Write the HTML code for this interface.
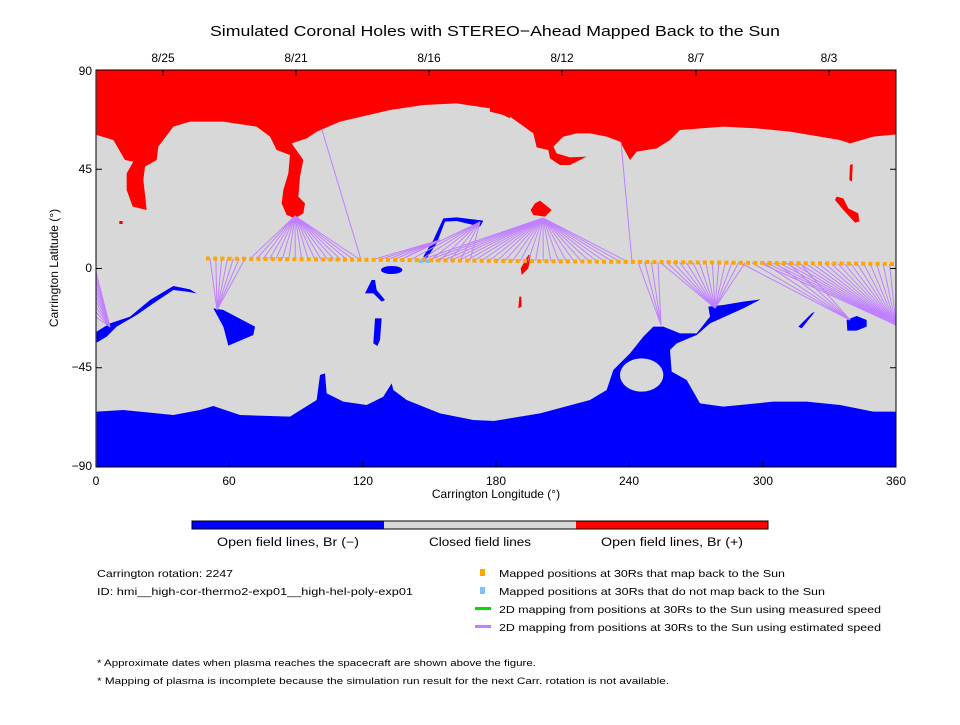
<!DOCTYPE html>
<html><head><meta charset="utf-8"><style>
body{margin:0;background:#fff;width:960px;height:720px;overflow:hidden}
svg text{font-family:"Liberation Sans",sans-serif;fill:#000}
</style></head><body>
<svg id="s" width="960" height="720" xmlns="http://www.w3.org/2000/svg">
<defs><clipPath id="c"><rect x="96" y="70" width="800" height="397"/></clipPath></defs>
<g clip-path="url(#c)">
<rect x="96" y="70" width="800" height="397" fill="#d8d8d8"/>
<g transform="translate(90,60) scale(0.33333)">
<path fill="#f00" d="M20,0 L1260,0 L1260,175 L1200,145 L1100,130 L1000,135 L900,150 L750,185 L680,215 L650,235 L605,250 L640,300 L630,350 L625,410 L645,430 L640,460 L615,475 L590,465 L575,430 L580,390 L595,340 L600,285 L560,270 L540,230 L500,200 L400,185 L300,185 L250,200 L205,260 L200,300 L165,320 L160,360 L168,430 L170,450 L128,440 L110,390 L110,340 L130,305 L105,300 L70,240 L20,225 Z"/>
<rect x="88" y="483" width="10" height="9" fill="#f00"/>
<path fill="#00f" d="M20,1055 L100,1050 L250,1065 L330,1050 L370,1038 L450,1065 L600,1070 L680,1020 L690,945 L705,940 L710,1000 L760,1025 L830,1035 L880,1010 L905,970 L910,990 L950,1020 L1050,1060 L1150,1080 L1260,1085 L1260,1230 L20,1230 Z"/>
<path fill="#00f" d="M20,815 L60,790 L120,770 L180,720 L250,678 L300,688 L320,700 L290,695 L250,690 L190,730 L140,765 L80,800 L50,830 L20,848 Z"/>
<path fill="#00f" d="M370,745 L400,750 L495,800 L490,825 L415,857 L400,800 Z"/>
<ellipse cx="905" cy="630" rx="32" ry="12" fill="#00f"/>
<path fill="#00f" d="M845,660 L855,660 L860,690 L885,720 L875,725 L850,700 L825,700 Z"/>
<path fill="#00f" d="M855,775 L875,775 L870,840 L862,858 L850,850 Z"/>
<path fill="#00f" d="M1000,590 L1030,540 L1060,475 L1100,472 L1180,482 L1170,500 L1100,483 L1065,485 L1040,550 L1010,595 Z"/>
</g>
<g transform="translate(490,60) scale(0.33333)">
<path fill="#f00" d="M0,0 L1230,0 L1230,222 L1150,230 L1080,250 L1050,240 L900,215 L800,205 L700,200 L570,210 L540,240 L500,265 L440,275 L420,300 L390,245 L350,230 L300,220 L260,220 L220,230 L190,260 L200,280 L240,292 L290,290 L240,315 L210,315 L180,295 L175,270 L140,262 L130,220 L60,170 L0,155 Z"/>
<path fill="#f00" d="M135,430 L150,422 L185,450 L165,470 L130,465 L122,450 Z"/>
<path fill="#f00" d="M1040,410 L1060,415 L1075,445 L1105,460 L1108,485 L1095,488 L1060,450 L1035,420 Z"/>
<path fill="#f00" d="M1080,315 L1088,312 L1086,365 L1078,360 Z"/>
<path fill="#f00" d="M115,585 L122,585 L115,625 L95,645 L92,625 Z"/>
<path fill="#f00" d="M88,710 L94,710 L95,740 L85,745 Z"/>
<path fill="#00f" d="M0,1085 L150,1060 L300,1020 L350,990 L370,930 L420,880 L460,830 L490,800 L520,800 L570,820 L620,820 L660,770 L655,740 L700,735 L760,725 L812,718 L760,745 L660,790 L620,825 L560,850 L540,870 L545,935 L590,960 L630,1030 L700,1040 L850,1025 L950,1025 L1050,1035 L1150,1055 L1230,1055 L1230,1230 L0,1230 Z"/>
<ellipse cx="455" cy="945" rx="65" ry="50" fill="#d8d8d8"/>
<path fill="#00f" d="M1070,780 L1100,768 L1130,780 L1130,800 L1100,812 L1072,812 Z"/>
<path fill="#00f" d="M925,800 L965,760 L975,755 L935,805 Z"/>
</g>
<g id="lines" stroke="#c080ff" stroke-width="1" fill="none"></g>
<g id="dots" fill="#ffa500"></g>
</g>
<rect x="96" y="70" width="800" height="397" fill="none" stroke="#000" stroke-width="1"/>
<g id="ticks" stroke="#000" stroke-width="1"></g>
<text x="210" y="36" font-size="15" textLength="570" lengthAdjust="spacingAndGlyphs">Simulated Coronal Holes with STEREO−Ahead Mapped Back to the Sun</text>
<g font-size="12" text-anchor="middle">
<text x="163" y="62">8/25</text><text x="296" y="62">8/21</text><text x="429" y="62">8/16</text><text x="562" y="62">8/12</text><text x="696" y="62">8/7</text><text x="829" y="62">8/3</text>
<text x="96" y="485">0</text><text x="229" y="485">60</text><text x="363" y="485">120</text><text x="496" y="485">180</text><text x="629" y="485">240</text><text x="763" y="485">300</text><text x="896" y="485">360</text>
<text x="496" y="498">Carrington Longitude (°)</text>
</g>
<g font-size="12" text-anchor="end">
<text x="92" y="75">90</text><text x="92" y="173">45</text><text x="92" y="272">0</text><text x="92" y="371">−45</text><text x="92" y="470">−90</text>
</g>
<text transform="translate(58,268) rotate(-90)" font-size="12" text-anchor="middle">Carrington Latitude (°)</text>
<rect x="192" y="521" width="192" height="8" fill="#00f"/><rect x="384" y="521" width="192" height="8" fill="#d8d8d8"/><rect x="576" y="521" width="192" height="8" fill="#f00"/>
<rect x="192" y="521" width="576" height="8" fill="none" stroke="#000"/>
<g font-size="11.5">
<text x="217" y="546" textLength="142" lengthAdjust="spacingAndGlyphs">Open field lines, Br (−)</text>
<text x="429" y="546" textLength="102" lengthAdjust="spacingAndGlyphs">Closed field lines</text>
<text x="601" y="546" textLength="142" lengthAdjust="spacingAndGlyphs">Open field lines, Br (+)</text>
</g>
<g font-size="10.5">
<text x="97" y="577" textLength="136" lengthAdjust="spacingAndGlyphs">Carrington rotation: 2247</text>
<text x="97" y="595" textLength="316" lengthAdjust="spacingAndGlyphs">ID: hmi__high-cor-thermo2-exp01__high-hel-poly-exp01</text>
<text x="499" y="577" textLength="286" lengthAdjust="spacingAndGlyphs">Mapped positions at 30Rs that map back to the Sun</text>
<text x="499" y="595" textLength="326" lengthAdjust="spacingAndGlyphs">Mapped positions at 30Rs that do not map back to the Sun</text>
<text x="499" y="613" textLength="382" lengthAdjust="spacingAndGlyphs">2D mapping from positions at 30Rs to the Sun using measured speed</text>
<text x="499" y="631" textLength="382" lengthAdjust="spacingAndGlyphs">2D mapping from positions at 30Rs to the Sun using estimated speed</text>
</g>
<rect x="480" y="569" width="5" height="7" fill="#ffa500"/>
<rect x="480" y="587" width="5" height="7" fill="#80c0ff"/>
<rect x="475" y="607" width="16" height="3" fill="#00e000"/>
<rect x="475" y="625" width="16" height="3" fill="#c080ff"/>
<g font-size="9">
<text x="97" y="666" textLength="439" lengthAdjust="spacingAndGlyphs">* Approximate dates when plasma reaches the spacecraft are shown above the figure.</text>
<text x="97" y="684" textLength="572" lengthAdjust="spacingAndGlyphs">* Mapping of plasma is incomplete because the simulation run result for the next Carr. rotation is not available.</text>
</g>
</svg>
<script>
var NS="http://www.w3.org/2000/svg";
function el(p,t,a){var e=document.createElementNS(NS,t);for(var k in a)e.setAttribute(k,a[k]);document.getElementById(p).appendChild(e);}
function dy(x){return 258.5+(x-208)*5.5/688;}
for(var x=208;x<=896;x+=7.2){el("dots","rect",{x:x-2,y:dy(x)-2,width:4,height:4});}
el("dots","rect",{x:419,y:259,width:4,height:4,fill:"#80c0ff"});
el("dots","rect",{x:426,y:259,width:4,height:4,fill:"#80c0ff"});
function fan(fx,fy,x0,x1,n){for(var i=0;i<n;i++){var x=x0+(x1-x0)*i/(n-1);el("lines","line",{x1:fx,y1:fy,x2:x,y2:dy(x)});}}
fan(217,310,210,245,7);
fan(295,216,250,360,18);
el("lines","line",{x1:322,y1:130,x2:361,y2:dy(361)});
fan(440,240,372,400,5);
fan(480,222,400,470,8);
fan(543,218,420,628,28);
el("lines","line",{x1:621,y1:142,x2:632,y2:dy(632)});
fan(661,325,638,658,4);
fan(715,308,660,745,14);
fan(850,320,740,800,6);
fan(896,325,760,896,22);
for(var i=0;i<10;i++){el("lines","line",{x1:110,y1:327,x2:96,y2:272+i*5});}
[0,60,120,180,240,300,360].forEach(function(v){var x=96+v*800/360;el("ticks","line",{x1:x,y1:467,x2:x,y2:461});});
[90,45,0,-45,-90].forEach(function(v){var y=268.5-v*397/180;el("ticks","line",{x1:96,y1:y,x2:102,y2:y});el("ticks","line",{x1:896,y1:y,x2:890,y2:y});});
[163,296,429,562,696,829].forEach(function(x){el("ticks","line",{x1:x,y1:70,x2:x,y2:76});});
</script>
</body></html>
